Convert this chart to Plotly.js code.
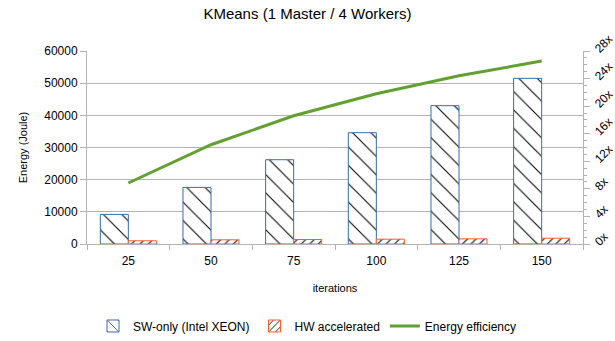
<!DOCTYPE html>
<html>
<head>
<meta charset="utf-8">
<script src="https://cdn.plot.ly/plotly-3.0.1.min.js"></script>
<style>html,body{margin:0;padding:0;background:#fff;}#chart{width:615px;height:341px;}</style>
</head>
<body>
<div id="chart"></div>
<script>
const iterations = ["25", "50", "75", "100", "125", "150"];
const swOnly = [9200, 17600, 26200, 34600, 43000, 51500];
const hwAccel = [1000, 1300, 1400, 1500, 1600, 1800];
const efficiency = [8.85, 14.4, 18.6, 21.8, 24.4, 26.55];
const rightTicks = [0, 4, 8, 12, 16, 20, 24, 28];

const font = "Liberation Sans, Arial, sans-serif";
const data = [
  {
    type: "bar", name: "SW-only (Intel XEON)", x: iterations, y: swOnly,
    marker: {color: "#ffffff", line: {color: "#3a6ba8", width: 1},
      pattern: {shape: "\\", fgcolor: "#000000", bgcolor: "#ffffff", size: 13, solidity: 0.08}}
  },
  {
    type: "bar", name: "HW accelerated", x: iterations, y: hwAccel,
    marker: {color: "#ffffff", line: {color: "#ff5a2a", width: 1},
      pattern: {shape: "/", fgcolor: "#000000", bgcolor: "#ffffff", size: 6, solidity: 0.18}}
  },
  {
    type: "scatter", mode: "lines", name: "Energy efficiency", x: iterations, y: efficiency,
    yaxis: "y2", line: {color: "#62a032", width: 3}
  }
];

const layout = {
  width: 615, height: 341,
  margin: {l: 87, r: 32, t: 51, b: 97},
  paper_bgcolor: "#ffffff", plot_bgcolor: "#ffffff",
  font: {family: font, size: 12, color: "#000000"},
  title: {text: "KMeans (1 Master / 4 Workers)", font: {size: 15, family: font}, x: 0.5, xanchor: "center", y: 0.96, yanchor: "middle"},
  barmode: "group", bargap: 0.322, bargroupgap: 0,
  showlegend: true,
  legend: {orientation: "h", x: 0.5, xanchor: "center", xref: "container", y: 0.044, yanchor: "middle", yref: "container", font: {size: 12}, traceorder: "normal", itemwidth: 30},
  xaxis: {
    type: "category", tickson: "boundaries", ticks: "outside", ticklen: 5, tickcolor: "#b3b3b3",
    showline: true, linecolor: "#b3b3b3", showgrid: false, ticklabelstandoff: 6, automargin: false,
    title: {text: "iterations", font: {size: 11}, standoff: 16},
    tickfont: {size: 12}
  },
  yaxis: {
    range: [0, 60000], dtick: 10000, tickformat: "d", exponentformat: "none",
    ticks: "outside", ticklen: 6, tickcolor: "#b3b3b3", automargin: false,
    showline: true, linecolor: "#b3b3b3", gridcolor: "#b3b3b3", zeroline: false,
    title: {text: "Energy (Joule)", font: {size: 11}, standoff: 14},
    tickfont: {size: 12}
  },
  yaxis2: {
    overlaying: "y", side: "right", range: [0, 28], automargin: false,
    tickmode: "array", tickvals: rightTicks, ticktext: rightTicks.map(v => v + "x"),
    tickangle: -45, ticks: "outside", ticklen: 6, tickcolor: "#b3b3b3", ticklabelstandoff: 3,
    minor: {dtick: 1, ticks: "outside", ticklen: 3, tickcolor: "#b3b3b3"},
    showline: true, linecolor: "#b3b3b3", showgrid: false, zeroline: false,
    tickfont: {size: 12}
  }
};

Plotly.newPlot("chart", data, layout, {staticPlot: true, displayModeBar: false});
</script>
</body>
</html>
